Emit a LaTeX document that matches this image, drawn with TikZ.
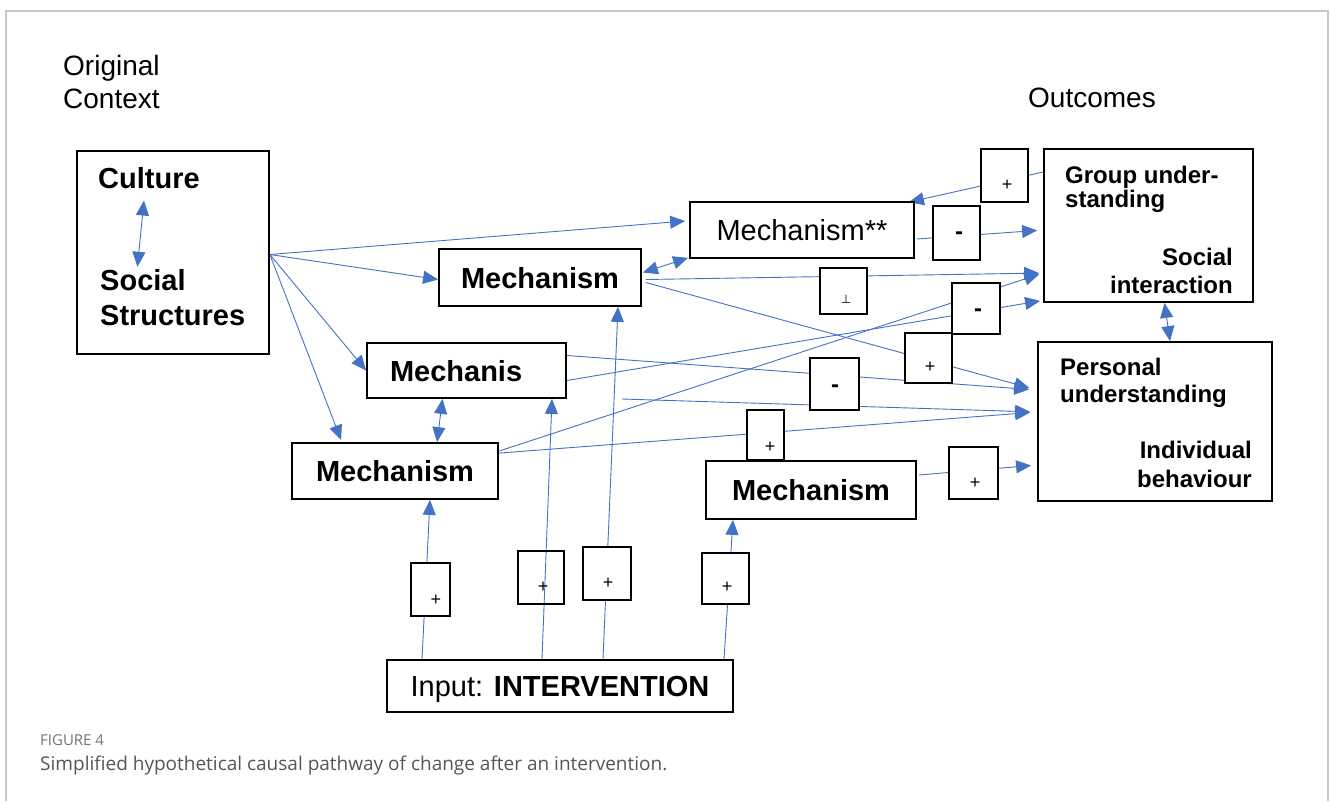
\documentclass[tikz,border=0pt]{standalone}
\usepackage{fontspec}
\setmainfont{Liberation Sans}
\newfontfamily\capfont{Open Sans}
\newfontfamily\symfont{DejaVu Sans}
\usetikzlibrary{arrows.meta,calc}
\pgfdeclarelayer{bg}
\pgfsetlayers{bg,main}
\definecolor{linkblue}{RGB}{68,114,196}
\definecolor{framegray}{RGB}{200,200,200}
\definecolor{capgray}{RGB}{85,85,85}
\definecolor{labgray}{RGB}{115,115,115}

\begin{document}
\begin{tikzpicture}[x=1pt,y=-1pt,
  box/.style={draw=black,line width=1.8pt,fill=white,inner sep=0pt,
    text height=21pt,text depth=0pt},
  bigbox/.style={draw=black,line width=1.8pt,fill=white,inner sep=0pt},
  signbox/.style={draw=black,line width=1.8pt,fill=white,inner sep=0pt},
  openbox/.style={draw=black,line width=1.8pt,inner sep=0pt},
  mechbold/.style={font=\fontsize{29}{34}\selectfont\bfseries},
  mechplain/.style={font=\fontsize{29}{34}\selectfont},
  headtext/.style={font=\fontsize{28}{33}\selectfont,inner sep=0pt,anchor=base west},
  ctxtext/.style={font=\fontsize{29}{34}\selectfont\bfseries,inner sep=0pt},
  outtext/.style={font=\fontsize{24}{28}\selectfont\bfseries,inner sep=0pt},
  signtext/.style={font=\fontsize{18}{20}\selectfont,inner sep=0pt,anchor=center},
  minustext/.style={font=\fontsize{24}{26}\selectfont\bfseries,inner sep=0pt,anchor=center},
  link/.style={draw=linkblue,line width=0.9pt,-{Triangle[length=15pt,width=13pt]}},
  duallink/.style={draw=linkblue,line width=0.9pt,{Triangle[length=15pt,width=13pt]}-{Triangle[length=15pt,width=13pt]}}
]
\useasboundingbox (0,0) rectangle (1330,801);

% outer frame of the figure panel
\draw[framegray,line width=1.5pt] (6,801) -- (6,11) -- (1328,11) -- (1328,801);

% headings
\node[headtext] (hOrig) at (63,75) {Original};
\node[headtext] (hCtx) at (63,108) {Context};
\node[headtext] (hOut) at (1028,107) {Outcomes};

% context box
\node[bigbox,minimum width=192pt,minimum height=203pt] (ctx) at (173,252.5) {};
\node[ctxtext,anchor=base west] (culture) at (98,188) {Culture};
\node[ctxtext,anchor=base west] (social) at (100,290) {Social};
\node[ctxtext,anchor=base west] (structures) at (100,325) {Structures};
\draw[duallink] ($(culture.south)+(-5,12)$) -- ($(social.north)+(-5.5,-2)$);

% mechanisms
\node[box,mechplain,minimum width=224pt,minimum height=56pt] (mechss) at (802,230) {Mechanism**};
\node[box,mechbold,minimum width=202pt,minimum height=57pt] (mech1) at (540,277.5) {Mechanism};
\node[box,mechbold,minimum height=55pt,inner xsep=23pt,text width=153pt,align=left] (mech3) at (466.5,370.5) {Mechanis};
\node[box,mechbold,minimum width=206pt,minimum height=56pt] (mech4) at (395,471) {Mechanism};
\node[box,mechbold,minimum width=210pt,minimum height=58pt] (mech5) at (811,490) {Mechanism};

% input box
\node[box,mechplain,minimum width=346pt,minimum height=52pt] (interv) at (560,686) {Input: \textbf{INTERVENTION}};

% outcome boxes
\node[bigbox,minimum width=209pt,minimum height=153pt] (group) at (1148.5,225.5) {};
\node[outtext,anchor=base west] (gl1) at (1065,183) {Group under-};
\node[outtext,anchor=base west] (gl2) at (1065,207) {standing};
\node[outtext,anchor=base east] (gl3) at (1233,265) {Social};
\node[outtext,anchor=base east] (gl4) at (1233,293) {interaction};

\node[bigbox,minimum width=234pt,minimum height=159pt] (personal) at (1155,421.5) {};
\node[outtext,anchor=base west] (pl1) at (1060,375) {Personal};
\node[outtext,anchor=base west] (pl2) at (1060,402) {understanding};
\node[outtext,anchor=base east] (pl3) at (1252,458) {Individual};
\node[outtext,anchor=base east] (pl4) at (1252,487) {behaviour};

% sign boxes on the links
\node[signbox,minimum width=47pt,minimum height=53pt] (sGrp) at (1004.5,175.5) {};
\node[signtext] (tGrp) at (1007,185) {+};
\node[signbox,minimum width=47pt,minimum height=54pt] (sSS) at (956.5,233) {};
\node[minustext] (tSS) at (959,236) {-};
\node[signbox,minimum width=47pt,minimum height=46pt] (sM1) at (843.5,291) {};
\node[signtext,font=\symfont\fontsize{12}{13}\selectfont] (tM1) at (846,299) {⊥};
\node[signbox,minimum width=48pt,minimum height=51pt] (sLow) at (976,308.5) {};
\node[minustext] (tLow) at (978,313) {-};
\node[signbox,minimum width=47pt,minimum height=50pt] (sPl) at (928.5,358) {};
\node[signtext] (tPl) at (930,367) {+};
\node[signbox,minimum width=49pt,minimum height=52pt] (sM3) at (834.5,384) {};
\node[minustext] (tM3) at (835,389) {-};
\node[signbox,minimum width=37pt,minimum height=50pt] (sM4) at (765.5,435) {};
\node[signtext] (tM4) at (770,447) {+};
\node[signbox,minimum width=49pt,minimum height=52pt] (sM5) at (973.5,473) {};
\node[signtext] (tM5) at (975,483) {+};
\node[signbox,minimum width=39pt,minimum height=53pt] (sA) at (430.5,589.5) {};
\node[signtext] (tA) at (436,600) {+};
\node[openbox,minimum width=46pt,minimum height=53pt] (sB) at (541,577.5) {};
\node[signtext] (tB) at (543,587) {+};
\node[signbox,minimum width=48pt,minimum height=53pt] (sC) at (607,573.5) {};
\node[signtext] (tC) at (608,583) {+};
\node[signbox,minimum width=47pt,minimum height=51pt] (sD) at (725.5,578.5) {};
\node[signtext] (tD) at (727,587) {+};

% caption
\node[font=\capfont\fontsize{15}{17}\selectfont,text=labgray,inner sep=0pt,anchor=base west] (figno) at (40,745) {FIGURE 4};
\node[font=\capfont\fontsize{19}{22}\selectfont,text=capgray,inner sep=0pt,anchor=base west] (figcap) at (40,770) {Simplified hypothetical causal pathway of change after an intervention.};

% connectors, kept underneath the boxes
\begin{pgfonlayer}{bg}
\coordinate (fan) at ($(ctx.east)+(0,2)$);
\coordinate (loose) at (622,399);

% context fans out to the mechanisms
\draw[link] (fan) -- ($(mechss.west)+(-4,-9)$);
\draw[link] (fan) -- ($(mech1.west)+(0,2)$);
\draw[link] (fan) -- (mech3.west);
\draw[link] (fan) -- ($(mech4.north west)+(50,-2)$);

% links between mechanisms
\draw[duallink] ($(mech1.east)+(1,-5)$) -- ($(mechss.south west)+(-1,-1)$);
\draw[duallink] ($(mech3.south)+(-24,0)$) -- ($(mech4.north)+(42,0)$);

% mechanisms to outcomes
\draw[link,shorten >=4pt] ($(mech1.east)+(4,2)$) -- (group.west |- 0,273);
\draw[link,shorten >=8pt] ($(mech1.east)+(4,5)$) -- (personal.west |- 0,390);
\draw[link,shorten >=6pt] ($(mechss.east)+(2,9)$) -- (group.west |- 0,230);
\draw[link] (group.west |- 0,172) -- ($(mechss.north east)+(-6,1)$);
\draw[link,shorten >=8pt] ($(mech3.east)+(0,-15)$) -- (personal.west |- 0,390);
\draw[link] ($(mech3.east)+(0,10)$) -- ($(group.south west)+(-3,-2)$);
\draw[link,shorten >=4pt] ($(mech4.north east)+(0,9)$) -- (group.west |- 0,273);
\draw[link,shorten >=7pt] ($(mech4.north east)+(0,11)$) -- (personal.west |- 0,412);
\draw[link,shorten >=7pt] (loose) -- (personal.west |- 0,412);
\draw[link,shorten >=6pt] ($(mech5.east)+(2,-15)$) -- (personal.west |- 0,465);
\draw[duallink] ($(group.south)+(16,0)$) -- ($(personal.north)+(15,0)$);

% intervention inputs
\draw[link] ($(interv.north)+(-138,0)$) -- ($(mech4.south)+(35,0)$);
\draw[link] ($(interv.north)+(-18,0)$) -- ($(mech3.south)+(85.5,0)$);
\draw[link] ($(interv.north)+(43,0)$) -- ($(mech1.south)+(78,0)$);
\draw[link] ($(interv.north)+(164,0)$) -- ($(mech5.south)+(-78,0)$);
\end{pgfonlayer}
\end{tikzpicture}
\end{document}
